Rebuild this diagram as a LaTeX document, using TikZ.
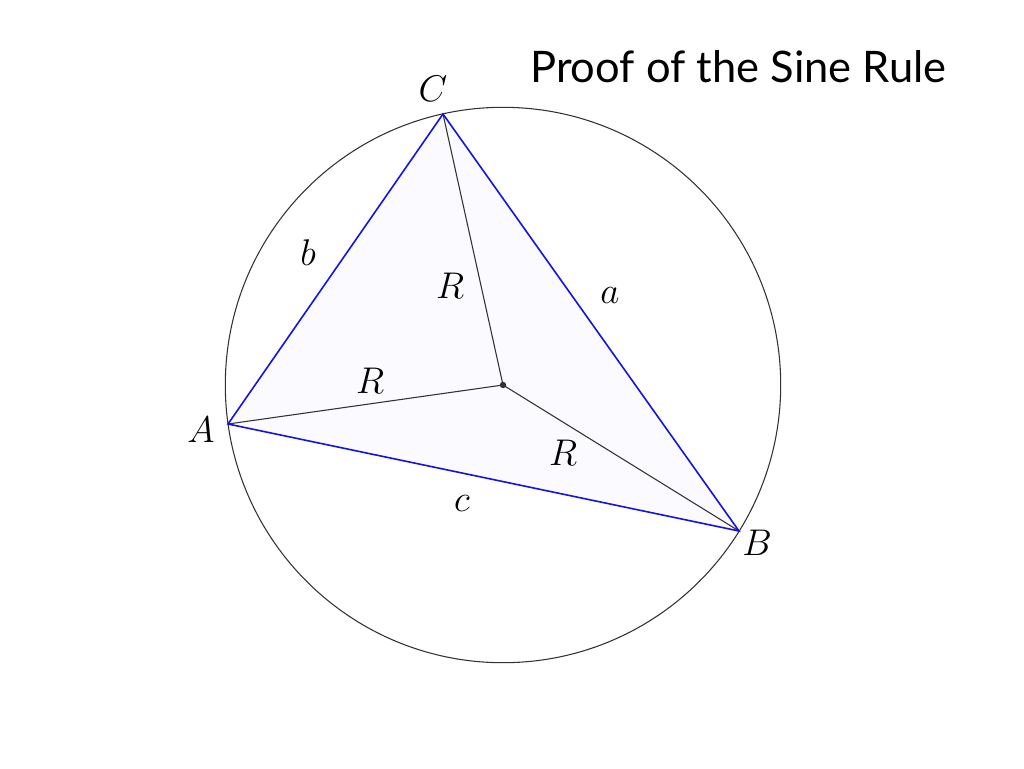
\documentclass[tikz,border=0pt]{standalone}
\usepackage{fontspec}
\newfontfamily\titlefont{Lato}
\definecolor{triblue}{RGB}{20,20,225}
\definecolor{trifill}{RGB}{250,250,255}
\definecolor{edgegray}{RGB}{50,50,50}
\tikzset{
  lbl/.style={font=\fontsize{24}{28}\selectfont, scale=1.12},
  side/.style={draw=triblue, line width=1.2pt},
  radius line/.style={draw=edgegray, line width=0.8pt},
}
\begin{document}
\begin{tikzpicture}[x=0.75pt,y=-0.75pt]
\useasboundingbox (0,0) rectangle (1024,768);
\coordinate (O) at (503,385);
\coordinate (A) at (228,424);
\coordinate (B) at (739,531);
\coordinate (C) at (443,114);
\fill[trifill] (A) -- (B) -- (C) -- cycle;
\draw[edgegray, line width=0.8pt] (O) circle[radius=277.7*0.75pt];
\draw[radius line] (O) -- (A);
\draw[radius line] (O) -- (B);
\draw[radius line] (O) -- (C);
\draw[side] (A) -- (B) -- (C) -- cycle;
\fill[edgegray] (O) circle[radius=3.2*0.75pt];
\node[lbl] (lC) at (433,89) {$C$};
\node[lbl] (lA) at (201,430) {$A$};
\node[lbl] (lB) at (757,543) {$B$};
\node[lbl] (la) at (610,295) {$a$};
\node[lbl] (lb) at (308,253) {$b$};
\node[lbl] (lc) at (462,503) {$c$};
\node[lbl] (R1) at (450,286) {$R$};
\node[lbl] (R2) at (370,381) {$R$};
\node[lbl] (R3) at (563,453) {$R$};
\node[anchor=base west, inner sep=0pt, font=\titlefont\fontsize{32.6}{38}\selectfont] (title) at (530,82) {Proof of the Sine Rule};
\end{tikzpicture}
\end{document}
